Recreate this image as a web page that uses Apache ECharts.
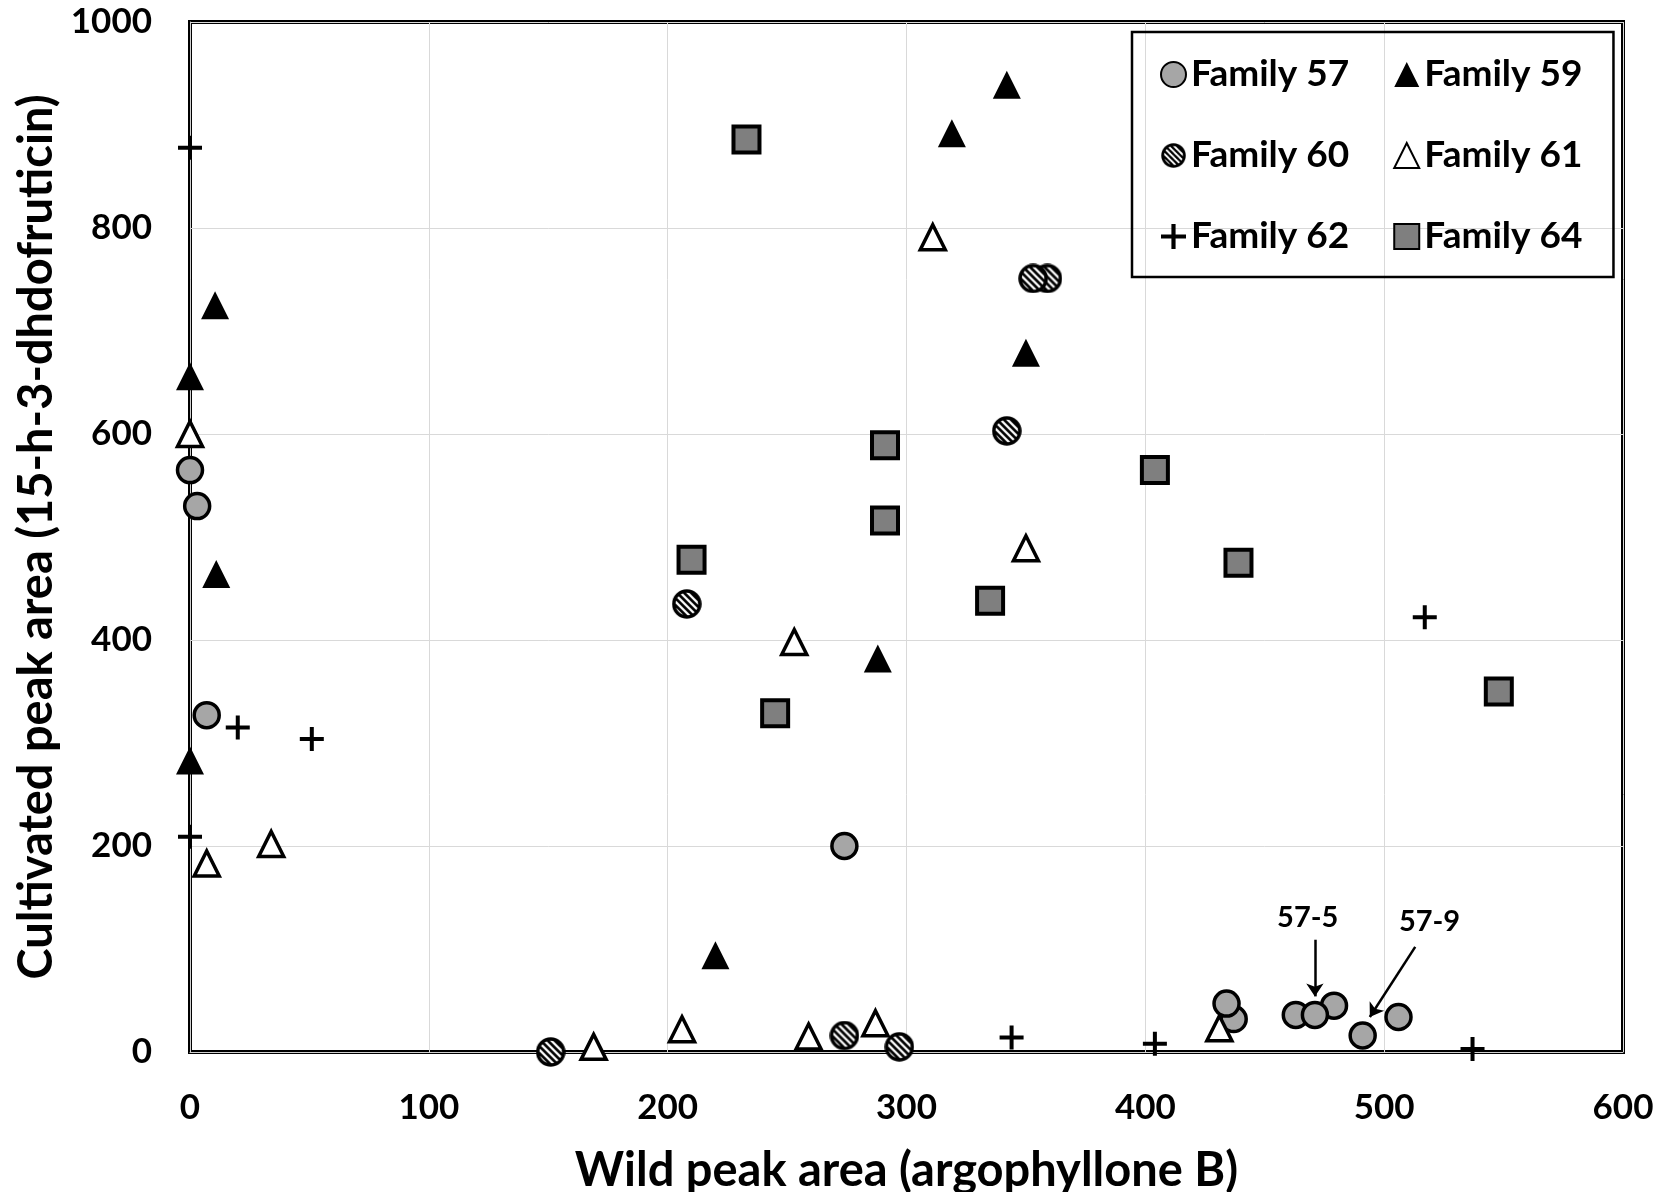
<!DOCTYPE html>
<html>
<head>
<meta charset="utf-8">
<title>Wild vs cultivated peak area</title>
<script src="https://cdn.jsdelivr.net/npm/echarts@6/dist/echarts.min.js"></script>
<style>
  html, body { margin: 0; padding: 0; background: #fff; }
  #chart { width: 1671px; height: 1192px; }
</style>
</head>
<body>
<div id="chart"></div>
<script>
// values: [wild peak area, cultivated peak area]
const fam57 = [[0, 565], [3, 530], [7, 327], [274, 200], [437, 32], [434, 47], [463, 36], [479, 45], [471, 36], [491, 16], [506, 34]]
const fam59 = [[0, 656], [10.5, 725], [11, 464], [0, 283], [220, 94], [288, 382], [342, 939], [319, 892], [350, 679]]
const fam60 = [[151, 0], [274, 16], [297, 5], [208, 435], [342, 603], [359, 751], [353, 751]]
const fam61 = [[0, 600], [7, 183], [34, 202], [169, 5], [206, 22], [259, 15], [287, 28], [253, 398], [311, 791], [350, 489], [431, 23]]
const fam62 = [[0, 878], [20, 315], [51, 304], [0, 209], [344, 14], [404, 8], [517, 422], [537, 3]]
const fam64 = [[233, 886], [291, 589], [291, 516], [210, 478], [404, 565], [439, 475], [335, 438], [245, 329], [548, 350]]

const familyNames = ['Family 57', 'Family 59', 'Family 60', 'Family 61', 'Family 62', 'Family 64']
// legend goes column by column
const legendOrder = ['Family 57', 'Family 60', 'Family 62', 'Family 59', 'Family 61', 'Family 64']

// labelled samples: text position, arrow start, arrow end
const notes = [
  { label: '57-5', text: [468, 130], from: [471, 109], to: [471, 54] },
  { label: '57-9', text: [519, 127], from: [513, 102], to: [494, 34] }
]

const FONT = 'Lato'
const plusPath = 'path://M10,0h4v24h-4z M0,10h24v4h-24z'

// hatched circle marker for family 60, drawn once into an image
function hatchedCircle() {
  var s = 60
  var c = document.createElement('canvas')
  c.width = s
  c.height = s
  var ctx = c.getContext('2d')
  var r = s / 2 - 4
  ctx.save()
  ctx.beginPath()
  ctx.arc(s / 2, s / 2, r, 0, Math.PI * 2)
  ctx.clip()
  ctx.fillStyle = '#000'
  ctx.fillRect(0, 0, s, s)
  ctx.strokeStyle = '#fff'
  ctx.lineWidth = 4.5
  for (var k = -s; k < s; k += 14) {
    ctx.beginPath()
    ctx.moveTo(k, 0)
    ctx.lineTo(k + s, s)
    ctx.stroke()
  }
  ctx.restore()
  ctx.beginPath()
  ctx.arc(s / 2, s / 2, r, 0, Math.PI * 2)
  ctx.strokeStyle = '#000'
  ctx.lineWidth = 7
  ctx.stroke()
  return 'image://' + c.toDataURL()
}

const chart = echarts.init(document.getElementById('chart'))

const labelFont = { fontFamily: FONT, fontWeight: 'bold', color: '#000' }

const noteMarks = {
  silent: true,
  symbol: ['none', 'arrow'],
  symbolSize: 13,
  label: { show: false },
  lineStyle: { color: '#000', width: 2.5, type: 'solid' },
  data: notes.map(n => [{ coord: n.from }, { coord: n.to }])
}
const noteLabels = {
  silent: true,
  symbol: 'circle',
  symbolSize: 0,
  itemStyle: { color: 'transparent' },
  label: Object.assign({
    show: true,
    position: 'inside',
    formatter: p => p.name,
    fontSize: 29
  }, labelFont),
  data: notes.map(n => ({ name: n.label, coord: n.text }))
}

chart.setOption({
  animation: false,
  backgroundColor: '#fff',
  grid: {
    left: 190,
    right: 48,
    top: 22,
    bottom: 140,
    outerBoundsMode: 'none',
    show: true,
    borderColor: '#000',
    borderWidth: 4
  },
  legend: {
    orient: 'vertical',
    left: 1132,
    top: 32,
    height: 210,
    padding: [24, 31, 22, 28],
    borderColor: '#000',
    borderWidth: 2.5,
    itemGap: 44,
    itemWidth: 25,
    itemHeight: 25,
    textStyle: Object.assign({ fontSize: 37 }, labelFont),
    data: legendOrder
  },
  xAxis: {
    type: 'value',
    min: 0,
    max: 600,
    interval: 100,
    name: 'Wild peak area (argophyllone B)',
    nameLocation: 'middle',
    nameGap: 95,
    nameTextStyle: Object.assign({ fontSize: 47 }, labelFont),
    axisLine: { show: true, lineStyle: { color: '#d0d0d0', width: 1 } },
    axisTick: { show: false },
    axisLabel: Object.assign({ margin: 38, fontSize: 35 }, labelFont),
    splitLine: { show: true, lineStyle: { color: '#d9d9d9', width: 1 } }
  },
  yAxis: {
    type: 'value',
    min: 0,
    max: 1000,
    interval: 200,
    name: 'Cultivated peak area (15-h-3-dhdofruticin)',
    nameLocation: 'middle',
    nameRotate: 90,
    nameGap: 116,
    nameTextStyle: Object.assign({ fontSize: 47 }, labelFont),
    axisLine: { show: true, lineStyle: { color: '#d0d0d0', width: 1 } },
    axisTick: { show: false },
    axisLabel: Object.assign({ margin: 38, fontSize: 35, formatter: v => String(v) }, labelFont),
    splitLine: { show: true, lineStyle: { color: '#d9d9d9', width: 1 } }
  },
  series: [{
    name: familyNames[0],
    type: 'scatter',
    clip: false,
    symbol: 'circle',
    symbolSize: 25,
    itemStyle: { color: '#a6a6a6', borderColor: '#000', borderWidth: 3.5, opacity: 1 },
    data: fam57,
    markLine: noteMarks,
    markPoint: noteLabels
  }, {
    name: familyNames[1],
    type: 'scatter',
    clip: false,
    symbol: 'triangle',
    symbolSize: 28,
    itemStyle: { color: '#000', opacity: 1 },
    data: fam59
  }, {
    name: familyNames[2],
    type: 'scatter',
    clip: false,
    symbol: hatchedCircle(),
    symbolSize: 30,
    itemStyle: { opacity: 1 },
    data: fam60
  }, {
    name: familyNames[3],
    type: 'scatter',
    clip: false,
    symbol: 'triangle',
    symbolSize: 25,
    itemStyle: { color: '#fff', borderColor: '#000', borderWidth: 3.5, opacity: 1 },
    data: fam61
  }, {
    name: familyNames[4],
    type: 'scatter',
    clip: false,
    symbol: plusPath,
    symbolSize: 24,
    itemStyle: { color: '#000', opacity: 1 },
    data: fam62
  }, {
    name: familyNames[5],
    type: 'scatter',
    clip: false,
    symbol: 'rect',
    symbolSize: 26,
    itemStyle: { color: '#7f7f7f', borderColor: '#000', borderWidth: 4, opacity: 1 },
    data: fam64
  }]
})
</script>
</body>
</html>
